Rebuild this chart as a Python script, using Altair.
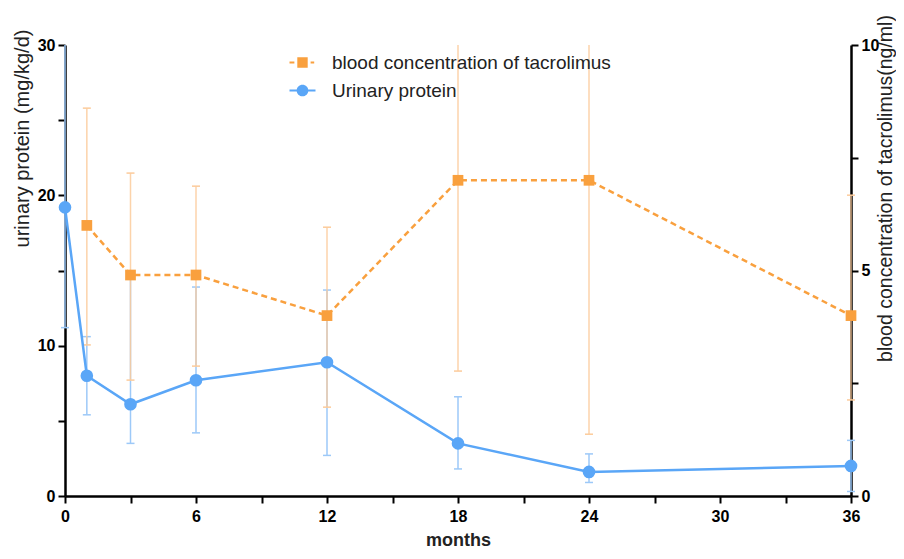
import altair as alt
import pandas as pd

# ---------------- data ----------------
months = [0, 1, 3, 6, 12, 18, 24, 36]
protein_mean = [19.2, 8.0, 6.1, 7.7, 8.9, 3.5, 1.6, 2.0]
protein_low = [11.2, 5.4, 3.5, 4.2, 2.7, 1.8, 0.9, 0.3]
protein_high = [30.0, 10.6, 14.6, 13.9, 13.7, 6.6, 2.8, 3.7]

tac_months = [1, 3, 6, 12, 18, 24, 36]
tac_mean = [6.0, 4.9, 4.9, 4.0, 7.0, 7.0, 4.0]
tac_low = [3.35, 2.57, 2.88, 1.97, 2.77, 1.37, 2.13]
tac_high = [8.6, 7.16, 6.87, 5.96, 10.0, 10.0, 6.67]

SER_T = "blood concentration of tacrolimus"
SER_P = "Urinary protein"
x_ticks = list(range(0, 37, 3))
left_ticks = [0, 5, 10, 15, 20, 25, 30]
right_ticks = [0, 2.5, 5, 7.5, 10]

prot = pd.DataFrame({"month": months, "mean": protein_mean, "low": protein_low,
                     "high": protein_high, "series": SER_P})
tac = pd.DataFrame({"month": tac_months, "mean": tac_mean, "low": tac_low,
                    "high": tac_high, "series": SER_T})

# ---------------- style ----------------
BLUE = "#5AA6F7"
LBLUE = "#9DC9F8"
ORANGE = "#F9A03E"
LORANGE = "#FCCB9B"
FONT = "Liberation Sans"
TICKFONT = "Liberation Sans Narrow, Liberation Sans"

xscale = alt.Scale(domain=[0, 36], nice=False, zero=False)
yL = alt.Scale(domain=[0, 30], nice=False)
yR = alt.Scale(domain=[0, 10], nice=False)

common_axis = dict(domainColor="black", domainWidth=2.5, tickColor="black", tickWidth=2,
                   tickSize=7, labelFont=TICKFONT, labelFontWeight="bold", labelFontSize=16,
                   labelColor="black", grid=False, titleColor="#222")

x_axis = alt.Axis(orient="bottom", values=x_ticks,
                  labelExpr="datum.value % 6 == 0 ? datum.label : ''",
                  title="months", titleFont=FONT, titleFontSize=18, titleFontWeight="bold",
                  titleX=393, titleY=44, titleBaseline="middle", labelPadding=5,
                  labelFlush=False, **common_axis)
left_axis = alt.Axis(orient="left", values=left_ticks,
                     labelExpr="datum.value % 10 == 0 ? datum.label : ''",
                     title="urinary protein (mg/kg/d)", titleFont=FONT, titleFontSize=20,
                     titleFontWeight="normal", titleAngle=270, titleX=-43, titleY=93,
                     titleBaseline="middle", titleAlign="center", labelPadding=3,
                     labelFlush=False, **common_axis)
right_axis = alt.Axis(orient="right", values=right_ticks,
                      labelExpr="datum.value % 5 == 0 ? datum.label : ''",
                      title="blood concentration of tacrolimus(ng/ml)", titleFont=FONT,
                      titleFontSize=19.5, titleFontWeight="normal", titleAngle=270,
                      titleX=34, titleY=143, titleBaseline="middle", titleAlign="center",
                      labelPadding=3, labelFlush=False, **common_axis)

PATH_T = "M-2,-0.16H-1.25V0.16H-2Z M-0.8,-0.8H0.8V0.8H-0.8Z M1.25,-0.16H1.8V0.16H1.25Z"
PATH_P = "M-2,-0.16H2V0.16H-2Z M0.9,0A0.9,0.9 0 1,1 -0.9,0A0.9,0.9 0 1,1 0.9,0Z"

leg_common = dict(title=None, orient="none", padding=0, symbolSize=169,
                  symbolStrokeWidth=0, symbolOpacity=1, labelOffset=20, labelFont=FONT,
                  labelFontSize=19, labelColor="#222", labelLimit=500)

color_t = alt.Color("series:N", scale=alt.Scale(domain=[SER_T], range=[ORANGE]),
                    legend=alt.Legend(symbolType=PATH_T, legendX=228, legendY=8, **leg_common))
color_p = alt.Color("series:N", scale=alt.Scale(domain=[SER_P], range=[BLUE]),
                    legend=alt.Legend(symbolType=PATH_P, legendX=228, legendY=36, **leg_common))

X = alt.X("month:Q", scale=xscale, axis=x_axis)

bp = alt.Chart(prot)
bt = alt.Chart(tac)

p_rule = bp.mark_rule(color=LBLUE, strokeWidth=1.5).encode(
    x=X, y=alt.Y("low:Q", scale=yL, axis=None), y2="high:Q")
p_cap_lo = bp.mark_tick(orient="horizontal", color=LBLUE, size=8, thickness=1.5, opacity=1).encode(
    x=X, y=alt.Y("low:Q", scale=yL, axis=None))
p_cap_hi = bp.transform_filter("datum.high < 30").mark_tick(
    orient="horizontal", color=LBLUE, size=8, thickness=1.5, opacity=1).encode(
    x=X, y=alt.Y("high:Q", scale=yL, axis=None))

t_rule = bt.mark_rule(color=LORANGE, strokeWidth=1.5, opacity=0.85).encode(
    x=X, y=alt.Y("low:Q", scale=yR, axis=None), y2="high:Q")
t_cap_lo = bt.mark_tick(orient="horizontal", color=LORANGE, size=8, thickness=1.5, opacity=1).encode(
    x=X, y=alt.Y("low:Q", scale=yR, axis=None))
t_cap_hi = bt.transform_filter("datum.high < 10").mark_tick(
    orient="horizontal", color=LORANGE, size=8, thickness=1.5, opacity=1).encode(
    x=X, y=alt.Y("high:Q", scale=yR, axis=None))

t_line = bt.mark_line(color=ORANGE, strokeWidth=2.5, strokeDash=[6, 4]).encode(
    x=X, y=alt.Y("mean:Q", scale=yR, axis=right_axis))
p_line = bp.mark_line(color=BLUE, strokeWidth=2.5).encode(
    x=X, y=alt.Y("mean:Q", scale=yL, axis=left_axis))

t_pts = bt.mark_point(shape="square", filled=True, size=115, opacity=1).encode(
    x=X, y=alt.Y("mean:Q", scale=yR, axis=None), color=color_t)
p_pts = bp.mark_point(shape="circle", filled=True, size=160, opacity=1).encode(
    x=X, y=alt.Y("mean:Q", scale=yL, axis=None), color=color_p)

chart = alt.layer(
    p_rule, p_cap_lo, p_cap_hi, t_rule, t_cap_lo, t_cap_hi, t_line, p_line, t_pts, p_pts
).resolve_scale(y="independent", color="independent").properties(
    width=786, height=451,
    padding={"left": 57, "top": 37, "right": 45, "bottom": 55},
    autosize=alt.AutoSizeParams(type="none"),
    background="white",
).configure_view(stroke=None)

chart.save("out.html", embed_options={"renderer": "svg", "actions": False})
